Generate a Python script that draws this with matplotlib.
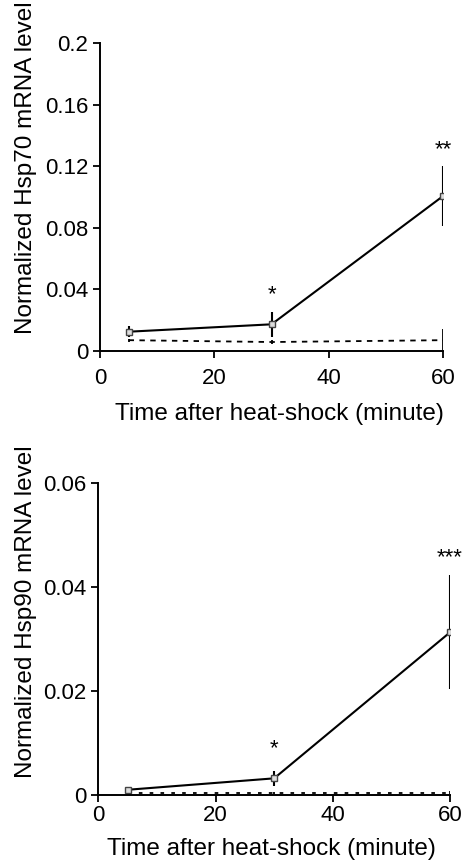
import matplotlib
matplotlib.use('Agg')
import matplotlib.pyplot as plt

plt.rcParams['font.family'] = ['Liberation Sans', 'DejaVu Sans']

# 时间点（分钟）
minutes = [5, 30, 60]
# Hsp70：热激处理组与对照组
hsp70_heat = [0.0125, 0.0173, 0.1006]
hsp70_heat_err = [0.0035, 0.008, 0.0195]
hsp70_ctrl = [0.007, 0.0058, 0.007]
hsp70_ctrl_err = [0.001, 0.001, 0.007]
hsp70_stars = ['', '*', '**']
hsp70_star_y = [0.0, 0.038, 0.132]
# Hsp90：热激处理组与对照组
hsp90_heat = [0.001, 0.0032, 0.0313]
hsp90_heat_err = [0.0002, 0.0015, 0.011]
hsp90_ctrl = [0.0004, 0.0004, 0.0004]
hsp90_ctrl_err = [0.0001, 0.0002, 0.0003]
hsp90_stars = ['', '*', '***']
hsp90_star_y = [0.0, 0.0094, 0.0462]

fig = plt.figure(figsize=(4.63, 8.64), dpi=100)
ax1 = fig.add_axes([0.216, 0.5938, 0.741, 0.3565])
ax2 = fig.add_axes([0.2123, 0.0799, 0.7596, 0.3608])


def draw(ax, heat, heat_err, ctrl, ctrl_err, stars, star_y, ctrl_style,
         ymax, yticks, yticklabels, gene, ylab_xy, xlab_xy, xpad):
    ax.errorbar(minutes, ctrl, yerr=ctrl_err, color='black', lw=1.3,
                linestyle=ctrl_style, elinewidth=1.3, capsize=0)
    ax.errorbar(minutes, heat, yerr=heat_err, color='black', lw=1.5,
                elinewidth=1.5, capsize=0, marker='s', markersize=4,
                markerfacecolor='#dddddd', markeredgecolor='#444444',
                markeredgewidth=1)
    for x, s, y in zip(minutes, stars, star_y):
        if s:
            ax.text(x, y, s, ha='center', va='center_baseline', fontsize=16,
                    clip_on=False)
    ax.set_xlim(0, 60)
    ax.set_ylim(0, ymax)
    ax.set_xticks([0, 20, 40, 60])
    ax.set_yticks(yticks)
    ax.set_yticklabels(yticklabels)
    ax.spines['top'].set_visible(False)
    ax.spines['right'].set_visible(False)
    for sp in ('left', 'bottom'):
        ax.spines[sp].set_linewidth(1.4)
    ax.tick_params(axis='both', direction='out', length=5, width=1.3,
                   labelsize=16)
    ax.tick_params(axis='x', pad=xpad)
    ax.set_ylabel('Normalized %s mRNA level' % gene, fontsize=17.5)
    ax.yaxis.set_label_coords(*ylab_xy)
    ax.set_xlabel('Time after heat-shock (minute)', fontsize=17.5)
    ax.xaxis.set_label_coords(*xlab_xy)


draw(ax1, hsp70_heat, hsp70_heat_err, hsp70_ctrl, hsp70_ctrl_err,
     hsp70_stars, hsp70_star_y, (0, (3, 3)), 0.2,
     [0, 0.04, 0.08, 0.12, 0.16, 0.2],
     ['0', '0.04', '0.08', '0.12', '0.16', '0.2'],
     'Hsp70', (-0.184, 0.596), (0.523, -0.169), 7)
draw(ax2, hsp90_heat, hsp90_heat_err, hsp90_ctrl, hsp90_ctrl_err,
     hsp90_stars, hsp90_star_y, (0, (2, 4)), 0.06,
     [0, 0.02, 0.04, 0.06],
     ['0', '0.02', '0.04', '0.06'],
     'Hsp90', (-0.174, 0.589), (0.493, -0.138), 2)

fig.savefig('out.png', dpi=100)
